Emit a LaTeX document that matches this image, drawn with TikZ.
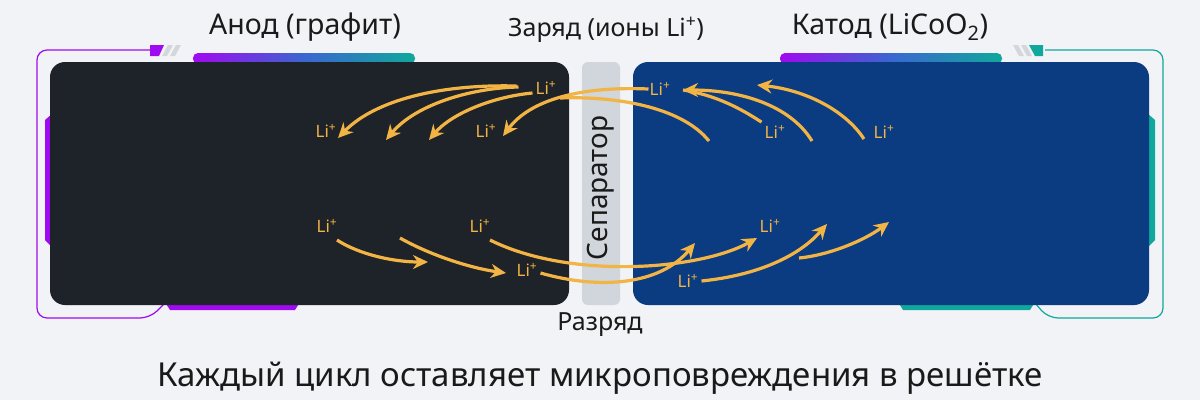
\documentclass[tikz,border=0pt]{standalone}
\usepackage{fontspec}
\setmainfont{Noto Sans}
\usetikzlibrary{arrows.meta}
\definecolor{bgcol}{HTML}{F1F3F6}
\definecolor{anodecol}{HTML}{1E2229}
\definecolor{cathodecol}{HTML}{0B3B80}
\definecolor{sepcol}{HTML}{D0D6DC}
\definecolor{ionorange}{HTML}{F2B444}
\definecolor{tabpurple}{HTML}{A00AF0}
\definecolor{tabteal}{HTML}{10A89C}
\definecolor{tabblue}{HTML}{3A66D0}
\definecolor{slashgray}{HTML}{D3D6DA}
\definecolor{txtcol}{HTML}{1A1A1A}
\begin{document}
\begin{tikzpicture}[x=1pt,y=-1pt,>=Stealth,
  li/.style={text=ionorange,font=\fontsize{17}{17}\selectfont,inner sep=1pt},
  ion/.style={ionorange,line width=3.2pt,-{Stealth[length=15pt,width=14pt]}},
  ionline/.style={ionorange,line width=3.2pt},
  heading/.style={text=txtcol,font=\fontsize{28.5}{28.5}\selectfont}]
% background
\fill[bgcol] (0,0) rectangle (1200,400);
\useasboundingbox (0,0) rectangle (1200,400);
% outer brackets
\draw[tabpurple,line width=1.2pt,rounded corners=10pt] (152,50) -| (37,318) -- (150,318) -- (165,303);
\draw[tabteal,line width=1.2pt,rounded corners=10pt] (1045,50) -| (1163,318) -- (1048,318) -- (1035,303);
\fill[tabpurple] (150,45) -- (164,45) -- (159,56) -- (150,56) -- cycle;
\fill[slashgray] (168,45) -- (173,45) -- (167,56) -- (162,56) -- cycle;
\fill[slashgray] (176,45) -- (181,45) -- (175,56) -- (170,56) -- cycle;
\fill[tabteal] (1029,45) -- (1043,45) -- (1043,56) -- (1035,56) -- cycle;
\fill[slashgray] (1013,45) -- (1018,45) -- (1024,56) -- (1019,56) -- cycle;
\fill[slashgray] (1021,45) -- (1026,45) -- (1032,56) -- (1027,56) -- cycle;
% tabs
\shade[left color=tabpurple,right color=tabteal,middle color=tabblue,rounded corners=5pt]
  (193,64) -- (193,53) -- (415,53) -- (415,64) -- cycle;
\shade[left color=tabpurple,right color=tabteal,middle color=tabblue,rounded corners=5pt]
  (780,64) -- (780,53) -- (1002,53) -- (1002,64) -- cycle;
\fill[tabpurple] (53,113) -- (45,120) -- (45,240) -- (53,248) -- cycle;
\fill[tabpurple] (165,302) -- (170,310) -- (295,310) -- (300,302) -- cycle;
\fill[tabteal] (1147,113) -- (1155,120) -- (1155,240) -- (1147,248) -- cycle;
\fill[tabteal] (898,302) -- (903,310) -- (1030,310) -- (1035,302) -- cycle;
% electrodes and separator
\fill[anodecol,rounded corners=15pt] (50,62) rectangle (569,305);
\fill[cathodecol,rounded corners=15pt] (633,62) rectangle (1149,305);
\fill[sepcol,rounded corners=6pt] (582,62) rectangle (620,305);
\node[text=txtcol,rotate=90,font=\fontsize{28}{28}\selectfont] (sep) at (601,188) {Сепаратор};
% headings
\node[heading] (anode) at (305,27) {Анод (графит)};
\node[heading,font=\fontsize{25}{25}\selectfont] (charge) at (606,30) {Заряд (ионы Li\textsuperscript{+})};
\node[heading] (cathode) at (890,27) {Катод (LiCoO\textsubscript{2})};
\node[heading,font=\fontsize{25}{25}\selectfont] (discharge) at (600,325) {Разряд};
\node[text=txtcol,font=\fontsize{33}{33}\selectfont] (title) at (600,378) {Каждый цикл оставляет микроповреждения в решётке};
% ions
\node[li] (la1) at (546,88) {Li\textsuperscript{+}};
\node[li] (la2) at (326,131) {Li\textsuperscript{+}};
\node[li] (la3) at (486,131) {Li\textsuperscript{+}};
\node[li] (lc1) at (660,89) {Li\textsuperscript{+}};
\node[li] (lc2) at (775,132) {Li\textsuperscript{+}};
\node[li] (lc3) at (884,132) {Li\textsuperscript{+}};
\node[li] (lb1) at (327,226) {Li\textsuperscript{+}};
\node[li] (lb2) at (480,226) {Li\textsuperscript{+}};
\node[li] (lb3) at (527,270) {Li\textsuperscript{+}};
\node[li] (ld1) at (770,226) {Li\textsuperscript{+}};
\node[li] (ld2) at (688,281) {Li\textsuperscript{+}};
% charge paths
\coordinate (ta1) at (338,138);
\coordinate (ta2) at (386,140);
\coordinate (ta3) at (429,140);
\coordinate (ta4) at (503,136);
\coordinate (tc1) at (683,90);
\coordinate (tc2) at (757,85);
\draw[ion] (la1.west) ++(-18,-2) .. controls (440,84) and (375,100) .. (ta1);
\draw[ion] (la1.west) ++(-16,-1) .. controls (470,88) and (415,105) .. (ta2);
\draw[ion] (la1.west) ++(-2,5) .. controls (490,97) and (450,115) .. (ta3);
\draw[ion] (lc1.west) .. controls (580,86) and (530,100) .. (ta4);
\draw[ionline] (709,141) .. controls (680,105) and (610,96) .. (560,98);
\draw[ionline] (lc2.north west) ++(-2,-2) .. controls (740,108) and (715,95) .. (tc1);
\draw[ion] (812,141) .. controls (790,105) and (740,90) .. (tc1);
\draw[ion] (864,139) .. controls (845,110) and (805,90) .. (tc2);
% discharge paths
\coordinate (tb1) at (428,262);
\coordinate (tb2) at (506,273);
\coordinate (td1) at (757,238);
\coordinate (td2) at (695,243);
\coordinate (td3) at (827,224);
\coordinate (td4) at (889,222);
\draw[ion] (337,240) .. controls (360,255) and (395,262) .. (tb1);
\draw[ion] (400,238) .. controls (430,255) and (470,268) .. (tb2);
\draw[ion] (490,240) .. controls (570,280) and (700,270) .. (td1);
\draw[ion] (lb3.east) ++(2,3) .. controls (600,290) and (660,285) .. (td2);
\draw[ion] (ld2.east) ++(2,0) .. controls (760,275) and (800,255) .. (td3);
\draw[ion] (799,258) .. controls (830,255) and (865,240) .. (td4);
\end{tikzpicture}
\end{document}
